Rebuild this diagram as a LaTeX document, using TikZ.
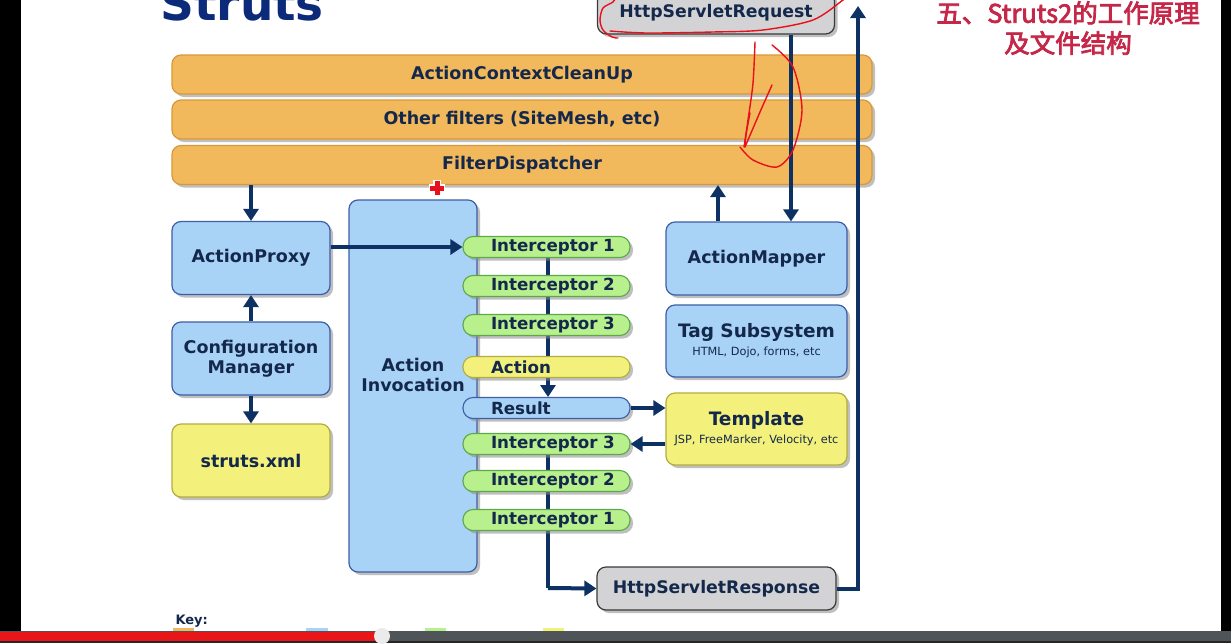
\documentclass[tikz,border=0pt]{standalone}
\usepackage{fontspec}
\setmainfont{DejaVu Sans}
\newfontfamily\cjk[FakeBold=3]{Noto Sans CJK SC}
\usetikzlibrary{arrows.meta,shadows,calc}
\definecolor{navy}{HTML}{0E3163}
\definecolor{txt}{HTML}{14284B}
\definecolor{orfill}{HTML}{F2B85C}
\definecolor{ordraw}{HTML}{D8983A}
\definecolor{blfill}{HTML}{A8D3F7}
\definecolor{bldraw}{HTML}{3F5EA8}
\definecolor{grfill}{HTML}{B8F08E}
\definecolor{grdraw}{HTML}{5DA84A}
\definecolor{yefill}{HTML}{F3F17C}
\definecolor{yedraw}{HTML}{B3AC3F}
\definecolor{gyfill}{HTML}{D3D3D5}
\definecolor{gydraw}{HTML}{3A3A3A}
\definecolor{cnred}{HTML}{C42748}
\definecolor{pen}{HTML}{E8101A}
\definecolor{bargray}{HTML}{4E5458}
\begin{document}
\begin{tikzpicture}[x=1pt,y=-1pt,
  shad/.style={drop shadow={shadow xshift=3pt,shadow yshift=-3pt,fill=black!45,opacity=0.55}},
  boxbase/.style={shad,rounded corners=9pt,line width=1.2pt,text=txt,align=center,inner sep=0pt},
  filterbar/.style={boxbase,fill=orfill,draw=ordraw,minimum width=700pt,minimum height=39pt,font=\fontsize{17.5}{20}\selectfont\bfseries},
  bluebox/.style={boxbase,fill=blfill,draw=bldraw,minimum width=158pt,minimum height=73pt,font=\fontsize{17.5}{20}\selectfont\bfseries},
  yellowbox/.style={boxbase,fill=yefill,draw=yedraw,minimum width=158pt,minimum height=73pt,font=\fontsize{17.5}{20}\selectfont\bfseries},
  graybox/.style={boxbase,fill=gyfill,draw=gydraw,font=\fontsize{17.3}{20}\selectfont\bfseries},
  pill/.style={shad,rounded corners=10pt,line width=1.1pt,text=txt,minimum height=21pt,text width=139pt,inner xsep=14pt,inner ysep=0pt,align=left,font=\fontsize{16.7}{18}\selectfont\bfseries},
  gpill/.style={pill,fill=grfill,draw=grdraw},
  ypill/.style={pill,fill=yefill,draw=yedraw},
  bpill/.style={pill,fill=blfill,draw=bldraw},
  conn/.style={draw=navy,line width=4pt},
  arr/.style={conn,-{Triangle[width=15pt,length=12pt]}},
  redpen/.style={draw=pen,line width=1.4pt,line cap=round,line join=round}]
\useasboundingbox (0,0) rectangle (1231,643);
\clip (0,0) rectangle (1231,643);
\fill[white] (0,0) rectangle (1231,643);

% title
\node[anchor=base west,text=navy!85!blue,font=\fontsize{47}{50}\selectfont\bfseries] (title) at (157,20) {Struts};

% chinese title
\node[text=cnred,font=\cjk\fontsize{25.5}{30}\selectfont,align=center] (cn) at (1068,28) {五、Struts2的工作原理\\及文件结构};

% filter bars
\node[filterbar] (acu) at (522,74.5) {ActionContextCleanUp};
\node[filterbar] (of) at (522,119.5) {Other filters (SiteMesh, etc)};
\node[filterbar] (fd) at (522,165) {FilterDispatcher};

% request / response
\node[graybox,minimum width=237pt,minimum height=42pt] (req) at (716,13) {HttpServletRequest};
\node[graybox,minimum width=239pt,minimum height=43pt] (resp) at (716.5,588.5) {HttpServletResponse};

% left column
\node[bluebox] (ap) at (251,258) {ActionProxy};
\node[bluebox] (cm) at (251,358.5) {Configuration\\Manager};
\node[yellowbox] (sx) at (251,460.5) {struts.xml};

% right column
\node[bluebox,minimum width=181pt] (am) at (756.5,258.5) {ActionMapper};
\node[bluebox,minimum width=181pt,minimum height=72pt] (ts) at (756.5,341) {\fontsize{18.5}{21}\selectfont Tag Subsystem\\[-2pt]{\fontsize{11.3}{13}\selectfont\mdseries HTML, Dojo, forms, etc}};
\node[yellowbox,minimum width=181pt,minimum height=72pt] (tpl) at (756.5,429) {\fontsize{18.5}{21}\selectfont Template\\[-2pt]{\fontsize{11.3}{13}\selectfont\mdseries JSP, FreeMarker, Velocity, etc}};

% action invocation
\node[bluebox,minimum width=128pt,minimum height=372pt] (ai) at (413,386) {Action\\Invocation\\[-3pt]\strut};

% coordinates
\coordinate (reqx) at (791,0);
\coordinate (amx) at (718,0);
\coordinate (upend) at (858,6);
\coordinate (i1c) at (548,247);
\coordinate (actc) at (548,367);
\coordinate (resn) at (548,397);
\coordinate (i3c) at (548,444);
\coordinate (botc) at (548,588);

% chain lines (behind pills)
\draw[conn] (i1c) -- (actc);
\draw[arr] (actc) -- (resn);
\draw[conn] (i3c) -- (botc);

% pills
\node[gpill] (i1) at (546.5,247) {\hspace*{14pt}Interceptor 1};
\node[gpill] (i2) at (546.5,286) {\hspace*{14pt}Interceptor 2};
\node[gpill] (i3) at (546.5,325) {\hspace*{14pt}Interceptor 3};
\node[ypill] (act) at (546.5,367) {\hspace*{14pt}Action};
\node[bpill] (res) at (546.5,408) {\hspace*{14pt}Result};
\node[gpill] (j3) at (546.5,444) {\hspace*{14pt}Interceptor 3};
\node[gpill] (j2) at (546.5,481) {\hspace*{14pt}Interceptor 2};
\node[gpill] (j1) at (546.5,520) {\hspace*{14pt}Interceptor 1};

% connectors
\draw[arr] (ap.north |- fd.south) -- (ap.north);
\draw[arr] (cm.north) -- (ap.south);
\draw[arr] (cm.south) -- (sx.north);
\draw[arr] (ap.east |- i1.west) -- (i1.west);
\draw[arr] (reqx |- req.south) -- (reqx |- am.north);
\draw[arr] (amx |- am.north) -- (amx |- fd.south);
\draw[arr] (res.east) -- (res.east -| tpl.west);
\draw[arr] (j3.east -| tpl.west) -- (j3.east);
\draw[arr] (botc) -- (resp.west);
\draw[arr] (resp.east) -| (upend);

% red pen annotations
\draw[redpen] plot[smooth] coordinates {(610,31) (647,33) (713,32) (763,30) (813,20) (843,0) (848,-4)};
\draw[redpen] plot[smooth] coordinates {(616,-3) (613,2) (603,8) (600,20) (603,30) (612,37) (618,38)};
\draw[redpen] plot[smooth] coordinates {(755,42) (753,83) (748,120) (744,147)};
\draw[redpen] plot[smooth] coordinates {(772,85) (760,112) (745,147)};
\draw[redpen] plot[smooth] coordinates {(750,113) (746,135) (745,147)};
\draw[redpen] plot[smooth] coordinates {(772,45) (793,67) (802,110) (793,150) (777,167) (753,160) (740,147)};

% cursor cross
\draw[white,line width=8pt] (437,180) -- (437,196) (429,188) -- (445,188);
\draw[pen,line width=5pt] (437,181) -- (437,195) (430,188) -- (444,188);

% key
\node[anchor=west,text=txt,font=\fontsize{13}{15}\selectfont\bfseries] (key) at (172,621) {Key:};
\fill[orfill] (173,628) rectangle (194,632);
\fill[blfill] (306,628) rectangle (328,632);
\fill[grfill] (425,628) rectangle (446,632);
\fill[yefill] (543,628) rectangle (564,632);

% frame bars
\fill[black] (0,0) rectangle (21,632);
\fill[black] (1221,0) rectangle (1231,632);
\fill[bargray] (0,631) rectangle (1231,643);
\fill[pen!95!orange] (0,632) rectangle (381,641);
\fill[black!85] (0,641) rectangle (1231,643);
\fill[black!8] (382,636) circle (8);
\end{tikzpicture}
\end{document}
